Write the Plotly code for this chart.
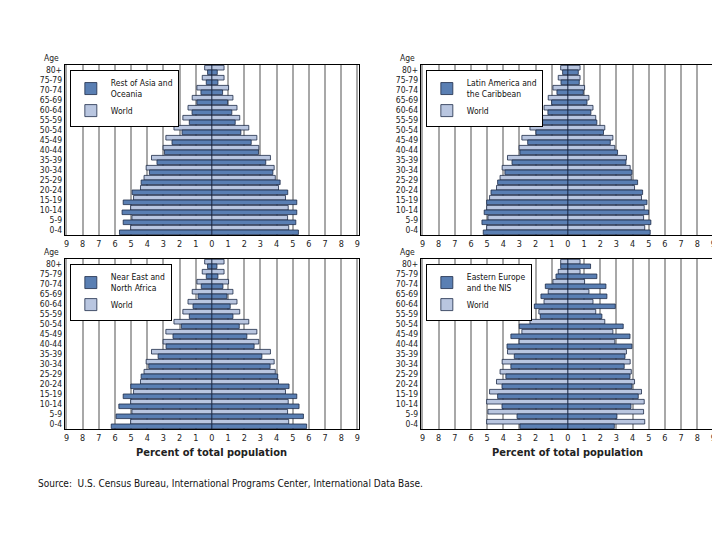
import plotly.graph_objects as go

# age groups, top to bottom
ages = ["80+", "75-79", "70-74", "65-69", "60-64", "55-59", "50-54", "45-49",
        "40-44", "35-39", "30-34", "25-29", "20-24", "15-19", "10-14", "5-9", "0-4"]

# percent of total population (left side / right side)
world_left = [0.45, 0.6, 0.93, 1.22, 1.48, 1.8, 2.35, 2.85, 3.02, 3.74, 4.07, 4.2, 4.42, 4.85, 5.03, 4.95, 5.03]
world_right = [0.75, 0.75, 1.03, 1.3, 1.55, 1.72, 2.28, 2.78, 2.9, 3.62, 3.85, 3.92, 4.12, 4.55, 4.72, 4.68, 4.75]

asia_left = [0.27, 0.35, 0.68, 0.93, 1.23, 1.4, 1.85, 2.47, 2.94, 3.4, 3.87, 4.38, 4.94, 5.49, 5.56, 5.49, 5.72]
asia_right = [0.33, 0.37, 0.66, 0.97, 1.23, 1.44, 1.79, 2.43, 2.88, 3.33, 3.77, 4.22, 4.69, 5.25, 5.25, 5.19, 5.35]

latam_left = [0.33, 0.43, 0.68, 1.01, 1.24, 1.57, 1.98, 2.49, 2.97, 3.46, 3.9, 4.35, 4.76, 5.03, 5.18, 5.32, 5.24]
latam_right = [0.64, 0.7, 0.95, 1.18, 1.42, 1.79, 2.2, 2.62, 3.07, 3.59, 3.96, 4.31, 4.62, 4.89, 4.99, 5.13, 5.09]

neafr_left = [0.27, 0.35, 0.66, 0.86, 1.17, 1.4, 1.89, 2.41, 2.84, 3.33, 3.91, 4.38, 5.02, 5.49, 5.76, 5.93, 6.23]
neafr_right = [0.31, 0.37, 0.68, 0.93, 1.13, 1.3, 1.69, 2.16, 2.61, 3.09, 3.6, 4.07, 4.77, 5.25, 5.39, 5.66, 5.86]

eeur_left = [0.45, 0.74, 1.4, 1.67, 2.08, 1.71, 3.01, 3.53, 3.77, 3.32, 3.53, 3.84, 4.08, 4.35, 4.08, 3.15, 2.97]
eeur_right = [1.4, 1.79, 2.35, 2.41, 2.93, 2.1, 3.42, 3.84, 3.96, 3.53, 3.48, 3.84, 3.96, 4.35, 3.9, 3.03, 2.87]

regions = [
    ("Rest of Asia and<br>Oceania", asia_left, asia_right),
    ("Latin America and<br>the Caribbean", latam_left, latam_right),
    ("Near East and<br>North Africa", neafr_left, neafr_right),
    ("Eastern Europe<br>and the NIS", eeur_left, eeur_right),
]

tick_vals = list(range(-9, 10))
tick_text = [str(abs(v)) for v in tick_vals]

DARK = "#5a7fb3"
LIGHT = "#b9c6e0"
EDGE = "#1d2b48"
FONT = "DejaVu Sans Condensed, Liberation Sans Narrow, sans-serif"

# panel frames in pixels (left, right, top, bottom)
frames = [(56, 351, 57, 227), (413, 708, 57, 227), (56, 351, 251, 421), (413, 708, 251, 421)]
W, H = 720, 540

fig = go.Figure()

for i, (name, left, right) in enumerate(regions):
    n = i + 1
    xa = "x" if n == 1 else f"x{n}"
    ya = "y" if n == 1 else f"y{n}"
    lg = "legend" if n == 1 else f"legend{n}"
    bar_style = dict(xaxis=xa, yaxis=ya, legend=lg, orientation="h")
    # world first (upper bar of each age group), region below
    fig.add_trace(go.Bar(y=ages, x=[-v for v in world_left], name="World",
                         marker=dict(color=LIGHT, line=dict(color=EDGE, width=0.8)),
                         offsetgroup="w", showlegend=False, **bar_style))
    fig.add_trace(go.Bar(y=ages, x=world_right, name="World",
                         marker=dict(color=LIGHT, line=dict(color=EDGE, width=0.8)),
                         offsetgroup="w", legendrank=2, **bar_style))
    fig.add_trace(go.Bar(y=ages, x=[-v for v in left], name=name,
                         marker=dict(color=DARK, line=dict(color=EDGE, width=0.8)),
                         offsetgroup="r", showlegend=False, **bar_style))
    fig.add_trace(go.Bar(y=ages, x=right, name=name,
                         marker=dict(color=DARK, line=dict(color=EDGE, width=0.8)),
                         offsetgroup="r", legendrank=1, **bar_style))

    l, r, t, b = frames[i]
    axis_x = dict(domain=[l / W, r / W], range=[-9.1, 9.1], tickvals=tick_vals, ticktext=tick_text,
                  showgrid=True, gridcolor="#a8a8a8", gridwidth=2, zeroline=True,
                  zerolinecolor="#111111", zerolinewidth=1.2, showline=True, linecolor="black",
                  linewidth=1.2, mirror=True, ticks="", tickfont=dict(size=9, family=FONT, color="#222"),
                  anchor=ya, fixedrange=True)
    axis_y = dict(domain=[1 - b / H, 1 - t / H], autorange="reversed", showgrid=False,
                  tickmode="array", tickvals=ages, ticktext=ages,
                  showline=True, linecolor="black", linewidth=1.2, mirror=True, ticks="",
                  tickfont=dict(size=8.5, family=FONT, color="#222"), anchor=xa, fixedrange=True)
    fig.update_layout({("xaxis" if n == 1 else f"xaxis{n}"): axis_x,
                       ("yaxis" if n == 1 else f"yaxis{n}"): axis_y})
    fig.update_layout({lg: dict(x=(l + 5) / W, y=1 - (t + 5) / H, xanchor="left", yanchor="top",
                                bgcolor="white", bordercolor="black", borderwidth=1,
                                font=dict(size=8.5, family=FONT, color="#111"),
                                traceorder="normal", itemwidth=30)})
    fig.add_annotation(text="Age", x=(l - 4) / W, y=1 - (t - 7) / H, xref="paper", yref="paper",
                       xanchor="right", yanchor="middle", showarrow=False,
                       font=dict(size=8.5, family=FONT, color="#222"))

for cx in [(56 + 351) / 2, (413 + 708) / 2]:
    fig.add_annotation(text="<b>Percent of total population</b>", x=cx / W, y=1 - 444 / H,
                       xref="paper", yref="paper", xanchor="center", yanchor="middle",
                       showarrow=False, font=dict(size=11, family=FONT, color="#222"))

fig.add_annotation(text="Source:  U.S. Census Bureau, International Programs Center, International Data Base.",
                   x=27 / W, y=1 - 475 / H, xref="paper", yref="paper", xanchor="left",
                   yanchor="middle", showarrow=False, font=dict(size=10, family=FONT, color="#111"))

fig.update_layout(width=W, height=H, margin=dict(l=0, r=0, t=0, b=0),
                  paper_bgcolor="white", plot_bgcolor="white",
                  barmode="relative", bargap=0.08, bargroupgap=0)

fig.write_html("out.html")
